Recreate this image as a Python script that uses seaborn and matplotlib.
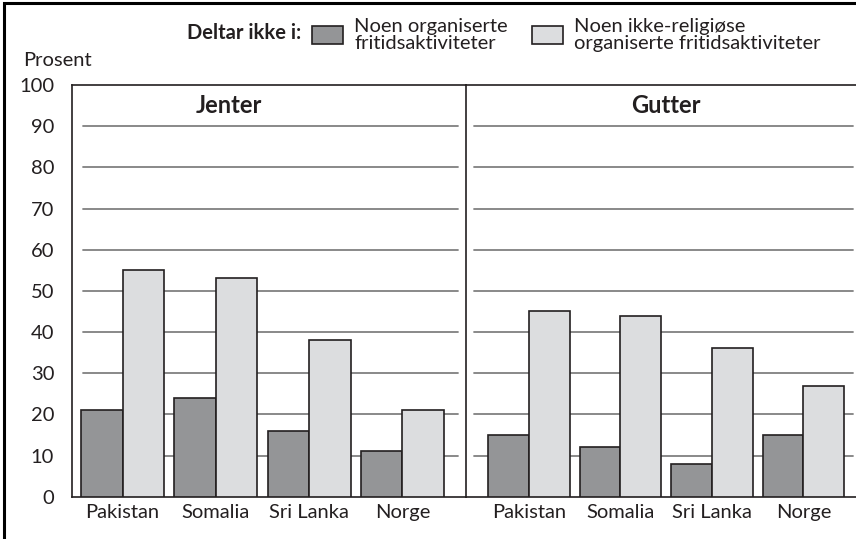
import pandas as pd
import matplotlib.pyplot as plt
import seaborn as sns
from matplotlib.patches import Rectangle

# --------------------------
# data

land = ["Pakistan", "Somalia", "Sri Lanka", "Norge"]

serie_navn = [
    "Noen organiserte\nfritidsaktiviteter",
    "Noen ikke-religiøse\norganiserte fritidsaktiviteter",
]

jenter_organiserte = [21, 24, 16, 11]
jenter_ikke_religiose = [55, 53, 38, 21]

gutter_organiserte = [15, 12, 8, 15]
gutter_ikke_religiose = [45, 44, 36, 27]

y_ticks = [0, 10, 20, 30, 40, 50, 60, 70, 80, 90, 100]

mork = "#939598"
lys = "#dcdddf"
kant = "#231f20"
grid_farge = "#808080"


def lag_df(a, b):
    return pd.DataFrame({
        "land": land * 2,
        "prosent": a + b,
        "serie": [serie_navn[0]] * len(land) + [serie_navn[1]] * len(land),
    })


df_jenter = lag_df(jenter_organiserte, jenter_ikke_religiose)
df_gutter = lag_df(gutter_organiserte, gutter_ikke_religiose)

# --------------------------

sns.set_style("white")
plt.rcParams["font.family"] = ["Lato", "DejaVu Sans"]
fs = 14.5

W, H = 856, 539
fig = plt.figure(figsize=(W / 100, H / 100), dpi=100)

y0 = (H - 496.7) / H
h = (496.7 - 85) / H

ax1 = fig.add_axes([71.5 / W, y0, (465.5 - 71.5) / W, h])
ax2 = fig.add_axes([465.5 / W, y0, (870 - 465.5) / W, h], sharey=ax1)

paneler = [
    (ax1, df_jenter, "Jenter", (-0.547, 3.676), 1.136, (0.029, 0.98)),
    (ax2, df_gutter, "Gutter", (-0.694, 3.727), 1.5, (0.02, 0.958)),
]

for ax, df, tittel, xlim, tx, (gmin, gmax) in paneler:

    sns.barplot(
        data=df,
        x="land",
        y="prosent",
        hue="serie",
        palette=[mork, lys],
        edgecolor=kant,
        linewidth=1.2,
        width=0.89,
        ax=ax,
        zorder=3,
    )

    for v in y_ticks[1:-1]:
        ax.axhline(v, xmin=gmin, xmax=gmax, color=grid_farge,
                   linewidth=1.3, zorder=1)

    ax.set_xlim(*xlim)
    ax.set_ylim(0, 100)
    ax.set_xlabel("")
    ax.set_ylabel("")
    ax.text(tx, 95, tittel, ha="center", va="center",
            fontweight="bold", fontsize=17, color=kant)

    for s in ax.spines.values():
        s.set_color(kant)
        s.set_linewidth(1.2)
    ax.spines["right"].set_visible(False)

    ax.tick_params(axis="x", length=0, pad=5, labelsize=fs,
                   colors=kant)

handles, labels = ax1.get_legend_handles_labels()
ax1.get_legend().remove()
ax2.get_legend().remove()

ax1.set_yticks(y_ticks)
ax1.tick_params(axis="y", length=6, width=1.2, pad=6.5, color=kant,
                labelsize=fs, labelcolor=kant)
ax2.tick_params(axis="y", left=False, labelleft=False)

fig.text(23 / W, 1 - 61 / H, "Prosent", ha="left", va="center",
         fontsize=fs, color=kant)

fig.text(301 / W, 1 - 33 / H, "Deltar ikke i:", ha="right", va="center",
         fontweight="bold", fontsize=fs, color=kant)

leg = fig.legend(
    handles,
    labels,
    loc="center left",
    bbox_to_anchor=(312 / W, 1 - 35 / H),
    ncol=2,
    frameon=False,
    fontsize=fs,
    handlelength=1.54,
    handleheight=1.0,
    handletextpad=0.55,
    columnspacing=1.2,
    labelspacing=0.2,
    borderpad=0,
    borderaxespad=0,
)
for t in leg.get_texts():
    t.set_linespacing(1.0)
    t.set_color(kant)

fig.patches.append(Rectangle(
    (4 / W, -0.1), 1.2, 1.1 - 3 / H,
    transform=fig.transFigure, fill=False,
    edgecolor="black", linewidth=2.2, clip_on=False,
))

plt.savefig("out.png", dpi=100)
